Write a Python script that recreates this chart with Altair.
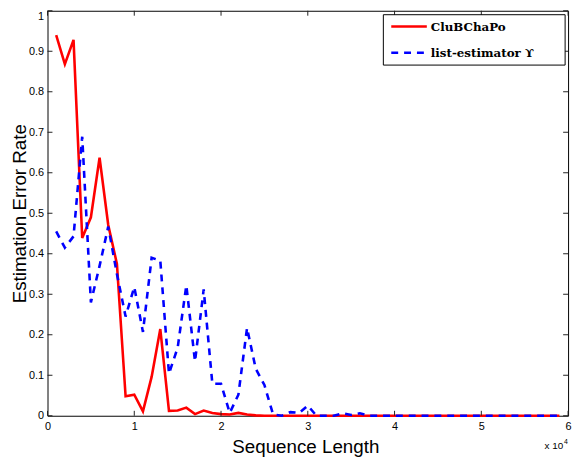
import altair as alt
import pandas as pd

# ---------------- data ----------------
seq_len = [1000, 2000, 3000, 4000, 5000, 6000, 7000, 8000, 9000, 10000,
           11000, 12000, 13000, 14000, 15000, 16000, 17000, 18000, 19000, 20000,
           21000, 22000, 23000, 24000, 25000, 26000, 27000, 28000, 29000, 30000,
           31000, 32000, 33000, 34000, 35000, 36000, 37000, 38000, 39000, 40000,
           41000, 42000, 43000, 44000, 45000, 46000, 47000, 48000, 49000, 50000,
           51000, 52000, 53000, 54000, 55000, 56000, 57000, 58000, 59000]

clubchapo = [0.940, 0.868, 0.928, 0.439, 0.490, 0.637, 0.471, 0.375, 0.048, 0.052,
             0.011, 0.096, 0.214, 0.012, 0.013, 0.020, 0.004, 0.013, 0.007, 0.004,
             0.003, 0.007, 0.003, 0.001, 0.000, 0.000, 0.000, 0.000, 0.000, 0.000,
             0.000, 0.000, 0.000, 0.000, 0.000, 0.000, 0.000, 0.000, 0.000, 0.000,
             0.000, 0.000, 0.000, 0.000, 0.000, 0.000, 0.000, 0.000, 0.000, 0.000,
             0.000, 0.000, 0.000, 0.000, 0.000, 0.000, 0.000, 0.000, 0.000]

list_estimator = [0.455, 0.415, 0.443, 0.689, 0.280, 0.370, 0.467, 0.350, 0.245, 0.318,
                  0.207, 0.390, 0.383, 0.104, 0.168, 0.322, 0.134, 0.312, 0.079, 0.079,
                  0.007, 0.052, 0.217, 0.116, 0.076, 0.003, 0.000, 0.009, 0.007, 0.025,
                  0.000, 0.000, 0.000, 0.006, 0.002, 0.006, 0.000, 0.000, 0.000, 0.000,
                  0.000, 0.000, 0.000, 0.000, 0.000, 0.000, 0.000, 0.000, 0.000, 0.000,
                  0.000, 0.000, 0.000, 0.000, 0.000, 0.000, 0.000, 0.000, 0.000]

series_names = ["CluBChaPo", "list-estimator \u03d2"]
series_colors = ["#ff0000", "#0000ff"]

x_ticks = [0, 10000, 20000, 30000, 40000, 50000, 60000]
y_ticks = [0, 0.1, 0.2, 0.3, 0.4, 0.5, 0.6, 0.7, 0.8, 0.9, 1]

# ---------------- tables ----------------
df = pd.DataFrame({
    "len": seq_len + seq_len,
    "rate": clubchapo + list_estimator,
    "method": [series_names[0]] * len(seq_len) + [series_names[1]] * len(seq_len),
})
xt = pd.DataFrame({"v": x_ticks})
yt = pd.DataFrame({"v": y_ticks})
one = pd.DataFrame({"a": [0]})

W, H = 527, 410
FONT = "Liberation Sans"
LFONT = "DejaVu Serif"

xscale = alt.Scale(domain=[0, 60000], nice=False, zero=False)
yscale = alt.Scale(domain=[0, 1], nice=False)

x_axis = alt.Axis(values=x_ticks, labelExpr="datum.value / 10000", tickSize=0,
                  domain=False, grid=False, labelFlush=False, labelPadding=5,
                  labelFont=FONT, labelFontSize=11, labelColor="black",
                  title="Sequence Length", titleFont=FONT, titleFontSize=19,
                  titleFontWeight="normal", titleColor="black",
                  titleX=261, titleY=37, titleBaseline="alphabetic")
y_axis = alt.Axis(values=y_ticks, format="~g", tickSize=0, domain=False, grid=False,
                  labelFlush=False, labelPadding=4, labelFont=FONT, labelFontSize=11,
                  labelColor="black",
                  labelBaseline=alt.condition("datum.value == 1", alt.value("top"),
                                              alt.value("middle")),
                  title="Estimation Error Rate", titleFont=FONT, titleFontSize=19,
                  titleFontWeight="normal", titleColor="black",
                  titleX=-22, titleY=205, titleBaseline="alphabetic")

red = alt.Chart(df).transform_filter(
    alt.datum.method == series_names[0]
).mark_line(color=series_colors[0], strokeWidth=2.6, strokeJoin="miter").encode(
    x=alt.X("len:Q", scale=xscale, axis=x_axis),
    y=alt.Y("rate:Q", scale=yscale, axis=y_axis),
    order="len:Q",
)
blue = alt.Chart(df).transform_filter(
    alt.datum.method == series_names[1]
).mark_line(color=series_colors[1], strokeWidth=2.6, strokeDash=[7, 6]).encode(
    x=alt.X("len:Q", scale=xscale, axis=x_axis),
    y=alt.Y("rate:Q", scale=yscale, axis=y_axis),
    order="len:Q",
)

tick_len = 5
tick_color = "#222222"
bt = alt.Chart(xt).mark_rule(color=tick_color, strokeWidth=1).encode(
    x=alt.X("v:Q", scale=xscale, axis=x_axis), y=alt.value(H), y2=alt.value(H - tick_len))
tt = alt.Chart(xt).mark_rule(color=tick_color, strokeWidth=1).encode(
    x=alt.X("v:Q", scale=xscale, axis=x_axis), y=alt.value(0), y2=alt.value(tick_len))
lt = alt.Chart(yt).mark_rule(color=tick_color, strokeWidth=1).encode(
    y=alt.Y("v:Q", scale=yscale, axis=y_axis), x=alt.value(0), x2=alt.value(tick_len))
rt = alt.Chart(yt).mark_rule(color=tick_color, strokeWidth=1).encode(
    y=alt.Y("v:Q", scale=yscale, axis=y_axis), x=alt.value(W), x2=alt.value(W - tick_len))

# legend box (drawn manually to match placement)
box = alt.Chart(one).mark_rect(fill="white", stroke="black", strokeWidth=1).encode(
    x=alt.value(340), x2=alt.value(524), y=alt.value(4), y2=alt.value(55))
leg_red = alt.Chart(one).mark_rule(color=series_colors[0], strokeWidth=2.6).encode(
    x=alt.value(348), x2=alt.value(384), y=alt.value(16))
leg_blue = alt.Chart(one).mark_rule(color=series_colors[1], strokeWidth=2.6,
                                    strokeDash=[7, 6]).encode(
    x=alt.value(348), x2=alt.value(384), y=alt.value(42.5))
leg_t1 = alt.Chart(one).mark_text(align="left", baseline="middle", font=LFONT,
                                  fontWeight="bold", fontSize=12, color="black").encode(
    x=alt.value(388), y=alt.value(16.5), text=alt.value(series_names[0]))
leg_t2 = alt.Chart(one).mark_text(align="left", baseline="middle", font=LFONT,
                                  fontWeight="bold", fontSize=12, color="black").encode(
    x=alt.value(388), y=alt.value(43), text=alt.value(series_names[1]))

# x 10^4 multiplier
mult = alt.Chart(one).mark_text(align="right", baseline="alphabetic", font=FONT,
                                fontSize=10, color="black").encode(
    x=alt.value(522), y=alt.value(444), text=alt.value("x 10"))
mult_exp = alt.Chart(one).mark_text(align="left", baseline="alphabetic", font=FONT,
                                    fontSize=7, color="black").encode(
    x=alt.value(523), y=alt.value(438.5), text=alt.value("4"))

chart = alt.layer(
    red, blue, bt, tt, lt, rt, box, leg_red, leg_blue, leg_t1, leg_t2, mult, mult_exp
).properties(
    width=W, height=H,
    autosize=alt.AutoSizeParams(type="none"),
    padding={"left": 40, "top": 0, "right": 6, "bottom": 42},
    background="white",
).configure_view(
    stroke="black", strokeWidth=1
)

chart.save("out.html", embed_options={"renderer": "svg", "actions": False})
